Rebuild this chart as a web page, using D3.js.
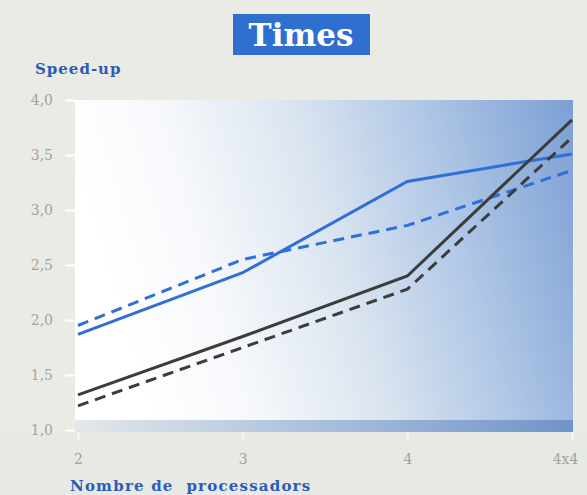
<!DOCTYPE html>
<html lang="ca">
<head>
  <meta charset="UTF-8">
  <title>Times</title>
  <script src="https://d3js.org/d3.v7.min.js"></script>
  <style>
    body { margin: 0; background: #ebebe6; }
    svg { display: block; }
  </style>
</head>
<body>
  <script>
    // categories (x axis) and tick values
    const processors = ["2", "3", "4", "4x4"];
    const yTicks = [1.0, 1.5, 2.0, 2.5, 3.0, 3.5, 4.0];

    // series values
    const blueSolid  = [1.87, 2.43, 3.26, 3.51];
    const blueDashed = [1.95, 2.55, 2.86, 3.36];
    const darkSolid  = [1.32, 1.85, 2.40, 3.82];
    const darkDashed = [1.22, 1.75, 2.28, 3.66];

    const series = [
      { values: blueSolid,  color: "#2f6fd6", dashed: false },
      { values: blueDashed, color: "#2f6fd6", dashed: true },
      { values: darkSolid,  color: "#3c3c3c", dashed: false },
      { values: darkDashed, color: "#3c3c3c", dashed: true }
    ];

    const W = 587, H = 495;
    const plot = { left: 75, right: 573, top: 100, bottom: 432 };

    const svg = d3.select("body").append("svg")
      .attr("width", W)
      .attr("height", H);

    const x = d3.scalePoint().domain(processors).range([78, 572]);
    const y = d3.scaleLinear().domain([1, 4]).range([430, 100]);

    // background gradients
    const defs = svg.append("defs");
    const grad = defs.append("linearGradient").attr("id", "plotbg")
      .attr("x1", "0").attr("x2", "1").attr("y1", "0.2").attr("y2", "0");
    grad.append("stop").attr("offset", "0").attr("stop-color", "#ffffff");
    grad.append("stop").attr("offset", "0.2").attr("stop-color", "#f6f8fb");
    grad.append("stop").attr("offset", "0.45").attr("stop-color", "#dbe5f0");
    grad.append("stop").attr("offset", "0.7").attr("stop-color", "#b0c7e6");
    grad.append("stop").attr("offset", "1").attr("stop-color", "#7c9fd4");

    const band = defs.append("linearGradient").attr("id", "band")
      .attr("x1", "0").attr("x2", "1").attr("y1", "0").attr("y2", "0");
    band.append("stop").attr("offset", "0").attr("stop-color", "#e3e8ea");
    band.append("stop").attr("offset", "0.4").attr("stop-color", "#b4c7df");
    band.append("stop").attr("offset", "1").attr("stop-color", "#7093c8");

    svg.append("rect")
      .attr("x", plot.left).attr("y", plot.top)
      .attr("width", plot.right - plot.left)
      .attr("height", plot.bottom - plot.top)
      .attr("fill", "url(#plotbg)");

    svg.append("rect")
      .attr("x", plot.left).attr("y", 420)
      .attr("width", plot.right - plot.left)
      .attr("height", plot.bottom - 420)
      .attr("fill", "url(#band)");

    // lower strip under the plot
    svg.append("rect")
      .attr("x", 0).attr("y", plot.bottom)
      .attr("width", W).attr("height", H - plot.bottom)
      .attr("fill", "#e6e9e4");

    // title
    svg.append("rect")
      .attr("x", 233).attr("y", 14)
      .attr("width", 137).attr("height", 41)
      .attr("fill", "#2f6fd0");
    svg.append("text")
      .attr("x", 301).attr("y", 46)
      .attr("text-anchor", "middle")
      .attr("font-family", "DejaVu Serif")
      .attr("font-weight", "bold")
      .attr("font-size", 31)
      .attr("fill", "#ffffff")
      .text("Times");

    // axis titles
    svg.append("text")
      .attr("x", 35).attr("y", 74)
      .attr("font-family", "DejaVu Serif")
      .attr("font-weight", "bold")
      .attr("font-size", 15)
      .attr("letter-spacing", 1)
      .attr("fill", "#2a5cb8")
      .text("Speed-up");

    svg.append("text")
      .attr("x", 70).attr("y", 491)
      .attr("font-family", "DejaVu Serif")
      .attr("font-weight", "bold")
      .attr("font-size", 15)
      .attr("letter-spacing", 1.2)
      .attr("fill", "#2a5cb8")
      .attr("xml:space", "preserve")
      .text("Nombre de  processadors");

    // y axis
    const yAxis = svg.append("g")
      .attr("transform", `translate(${plot.left},0)`)
      .call(d3.axisLeft(y)
        .tickValues(yTicks)
        .tickSize(10)
        .tickPadding(12)
        .tickFormat(d => d3.format(".1f")(d).replace(".", ",")));
    yAxis.select(".domain").remove();
    yAxis.selectAll("line").attr("stroke", "#ffffff").attr("stroke-width", 2);
    yAxis.selectAll("text")
      .attr("font-family", "DejaVu Serif")
      .attr("font-size", 14)
      .attr("fill", "#a2a2a2");

    // x axis
    const xAxis = svg.append("g")
      .attr("transform", `translate(0,${plot.bottom})`)
      .call(d3.axisBottom(x).tickSize(8).tickPadding(14));
    xAxis.select(".domain").remove();
    xAxis.selectAll("line").attr("stroke", "#f6f6f4").attr("stroke-width", 2);
    xAxis.selectAll("text")
      .attr("font-family", "DejaVu Serif")
      .attr("font-size", 14)
      .attr("fill", "#a2a2a2");
    xAxis.selectAll(".tick:last-of-type text").attr("dx", -7);

    // lines
    const line = d3.line()
      .x((d, i) => x(processors[i]))
      .y(d => y(d));

    svg.selectAll("path.series")
      .data(series)
      .enter()
      .append("path")
      .attr("class", "series")
      .attr("d", d => line(d.values))
      .attr("fill", "none")
      .attr("stroke", d => d.color)
      .attr("stroke-width", 3)
      .attr("stroke-dasharray", d => d.dashed ? "11,7" : null);
  </script>
</body>
</html>
